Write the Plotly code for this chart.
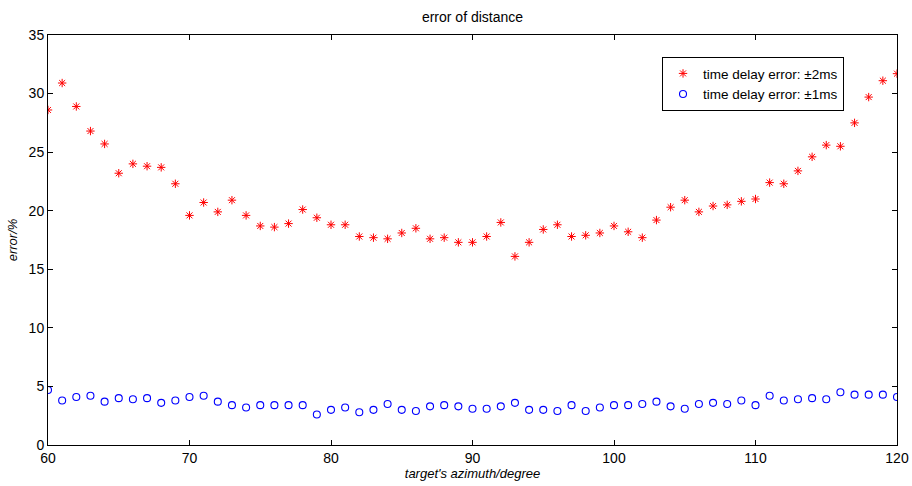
import plotly.graph_objects as go

azimuth = list(range(60, 121))

err_2ms = [28.6, 30.9, 28.9, 26.8, 25.7, 23.2, 24.0, 23.8, 23.7, 22.3,
           19.6, 20.7, 19.9, 20.9, 19.6, 18.7, 18.6, 18.9, 20.1, 19.4,
           18.8, 18.8, 17.8, 17.7, 17.6, 18.1, 18.5, 17.6, 17.7, 17.3,
           17.3, 17.8, 19.0, 16.1, 17.3, 18.4, 18.8, 17.8, 17.9, 18.1,
           18.7, 18.2, 17.7, 19.2, 20.3, 20.9, 19.9, 20.4, 20.5, 20.8,
           21.0, 22.4, 22.3, 23.4, 24.6, 25.6, 25.5, 27.5, 29.7, 31.1,
           31.7]

err_1ms = [4.7, 3.8, 4.1, 4.2, 3.7, 4.0, 3.9, 4.0, 3.6, 3.8,
           4.1, 4.2, 3.7, 3.4, 3.2, 3.4, 3.4, 3.4, 3.4, 2.6,
           3.0, 3.2, 2.8, 3.0, 3.5, 3.0, 2.9, 3.3, 3.4, 3.3,
           3.1, 3.1, 3.3, 3.6, 3.0, 3.0, 2.9, 3.4, 2.9, 3.2,
           3.4, 3.4, 3.5, 3.7, 3.3, 3.1, 3.5, 3.6, 3.5, 3.8,
           3.4, 4.2, 3.8, 3.9, 4.0, 3.9, 4.5, 4.3, 4.3, 4.3,
           4.1]

x_ticks = [60, 70, 80, 90, 100, 110, 120]
y_ticks = [0, 5, 10, 15, 20, 25, 30, 35]

FONT = "Liberation Sans, Arial, sans-serif"

fig = go.Figure()
fig.add_trace(go.Scatter(
    x=azimuth, y=err_2ms, mode="markers", name="time delay error: \u00b12ms",
    marker=dict(symbol="asterisk-open", size=7, color="red",
                line=dict(color="red", width=1.0)),
))
fig.add_trace(go.Scatter(
    x=azimuth, y=err_1ms, mode="markers", name="time delay error: \u00b11ms",
    marker=dict(symbol="circle-open", size=7, color="blue",
                line=dict(color="blue", width=1.1)),
))

axis_common = dict(
    showgrid=False, zeroline=False, showline=True, linecolor="black",
    linewidth=1, mirror="ticks", ticks="inside", ticklen=5,
    tickcolor="black", tickfont=dict(family=FONT, size=14, color="black"),
    automargin=False,
)

fig.update_layout(
    width=912, height=486,
    margin=dict(l=48, r=15, t=35, b=41),
    paper_bgcolor="white", plot_bgcolor="white",
    font=dict(family=FONT, size=13, color="black"),
    title=dict(text="error of distance", x=0.5, xref="paper", xanchor="center",
               y=1 - 17 / 486, yref="container", yanchor="middle",
               font=dict(family=FONT, size=14, color="black")),
    xaxis=dict(range=[60, 120], tickvals=x_ticks,
               title=dict(text="<i>target's azimuth/degree</i>", standoff=2,
                          font=dict(family=FONT, size=13)),
               **axis_common),
    yaxis=dict(range=[0, 35], tickvals=y_ticks,
               title=dict(text="<i>error/%</i>", standoff=8,
                          font=dict(family=FONT, size=13)),
               **axis_common),
    legend=dict(x=0.9376, y=0.946, xanchor="right", yanchor="top",
                bgcolor="white", bordercolor="black", borderwidth=1,
                font=dict(family=FONT, size=13.5), tracegroupgap=0,
                itemsizing="trace"),
    showlegend=True,
)

fig.write_html(
    "out.html",
    config={"displayModeBar": False},
    post_script="document.body.style.margin='0';document.body.style.overflow='hidden';",
)
